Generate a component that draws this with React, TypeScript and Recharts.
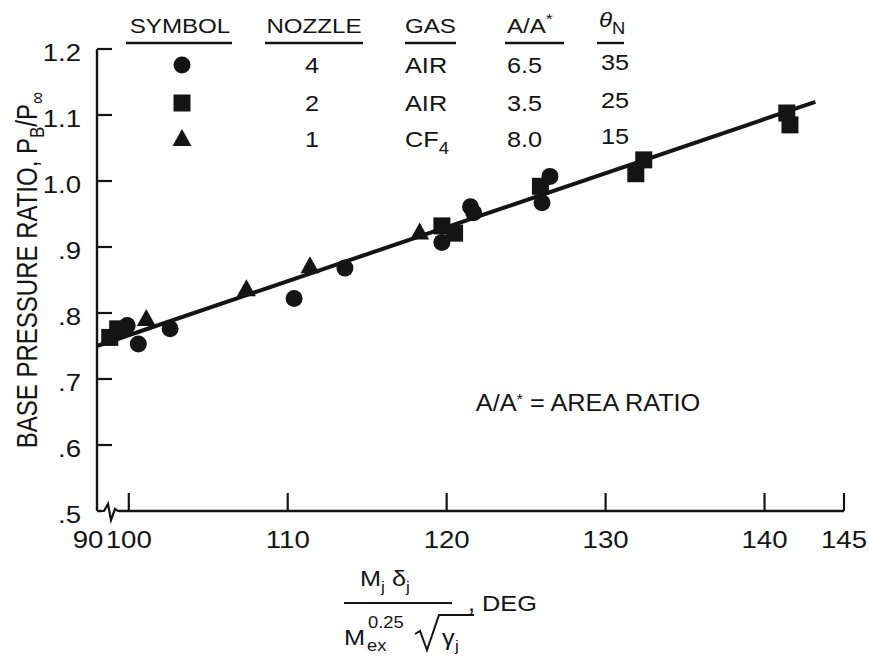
import React from "react";
import {
  ComposedChart,
  XAxis,
  YAxis,
  Scatter,
  Line,
  Legend,
  ReferenceDot,
} from "recharts";

const INK = "#141414";
const FONT = "'Liberation Sans', Arial, Helvetica, sans-serif";

// nozzle 4, air  (circles)
const nozzle4X = [99.9, 100.6, 102.6, 110.4, 113.6, 119.7, 121.5, 121.7, 126.0, 126.5];
const nozzle4Y = [0.781, 0.753, 0.776, 0.822, 0.868, 0.907, 0.961, 0.952, 0.967, 1.007];
// nozzle 2, air  (squares)
const nozzle2X = [98.8, 99.3, 119.7, 120.5, 125.9, 131.9, 132.4, 141.4, 141.6];
const nozzle2Y = [0.763, 0.776, 0.932, 0.921, 0.992, 1.011, 1.032, 1.103, 1.085];
// nozzle 1, CF4  (triangles)
const nozzle1X = [101.1, 107.4, 111.4, 118.3];
const nozzle1Y = [0.791, 0.836, 0.871, 0.922];
// faired line through the data
const fitX = [98, 143.2];
const fitY = [0.75, 1.12];

// 98 sits just right of the axis break and is labelled "90"
const xTicks = [98, 100, 110, 120, 130, 140, 145];
const yTicks = [0.5, 0.6, 0.7, 0.8, 0.9, 1.0, 1.1, 1.2];

// symbol table
const nozzleCol = ["4", "2", "1"];
const gasCol = ["AIR", "AIR", "CF4"];
const areaCol = ["6.5", "3.5", "8.0"];
const thetaCol = ["35", "25", "15"];

const zip = (xs: number[], ys: number[]) => xs.map((x, i) => ({ x, y: ys[i] }));
const nozzle4 = zip(nozzle4X, nozzle4Y);
const nozzle2 = zip(nozzle2X, nozzle2Y);
const nozzle1 = zip(nozzle1X, nozzle1Y);
const fit = zip(fitX, fitY);

// text, stretched a little sideways like the scanned lettering
function T({ x, y, size = 22, anchor = "start", sx = 1.15, children }: any) {
  return (
    <text
      transform={`translate(${x},${y}) scale(${sx},1)`}
      textAnchor={anchor}
      fontSize={size}
      fontFamily={FONT}
      fill={INK}
    >
      {children}
    </text>
  );
}

const Dot = ({ cx, cy }: any) => <circle cx={cx} cy={cy} r={8.5} fill={INK} />;
const Box = ({ cx, cy }: any) => <rect x={cx - 8.5} y={cy - 8.5} width={17} height={17} fill={INK} />;
const Tri = ({ cx, cy }: any) => (
  <path d={`M${cx},${cy - 10} L${cx + 9.5},${cy + 7} L${cx - 9.5},${cy + 7} Z`} fill={INK} />
);

function XTick({ x, y, payload }: any) {
  const v = payload.value;
  if (v === 98) {
    return (
      <g>
        <rect x={x + 5} y={y - 4} width={17} height={8} fill="#fff" />
        <path
          d={`M${x + 4},${y} L${x + 7},${y} L${x + 11},${y - 7} L${x + 14},${y + 9} L${x + 18},${y - 2} L${x + 21},${y} L${x + 24},${y}`}
          fill="none"
          stroke={INK}
          strokeWidth={2.2}
        />
        <T x={x - 9} y={y + 37} size={24} anchor="middle">90</T>
      </g>
    );
  }
  return (
    <g>
      <line x1={x} x2={x} y1={y} y2={y - 18} stroke={INK} strokeWidth={2.2} />
      <T x={x} y={y + 37} size={24} anchor="middle">{v}</T>
    </g>
  );
}

function YTick({ x, y, payload }: any) {
  const v = payload.value;
  const label = v >= 1 ? v.toFixed(1) : v.toFixed(1).slice(1);
  return (
    <g>
      {v > 0.5 && <line x1={x} x2={x + 15} y1={y} y2={y} stroke={INK} strokeWidth={2.2} />}
      <T x={x - 16} y={y + 12} size={24} anchor="end">{label}</T>
    </g>
  );
}

function YTitle({ viewBox }: any) {
  const x = viewBox.x;
  const y = viewBox.y + viewBox.height / 2 - 10;
  return (
    <text
      transform={`translate(${x},${y}) rotate(-90) scale(1,1.2)`}
      textAnchor="middle"
      fontSize={24}
      fontFamily={FONT}
      fill={INK}
    >
      BASE PRESSURE RATIO, P
      <tspan dy={6} fontSize={17}>B</tspan>
      <tspan dy={-6}>/P</tspan>
      <tspan dy={6} fontSize={17}>∞</tspan>
    </text>
  );
}

function XTitle({ viewBox }: any) {
  const bx = viewBox.x + 247;
  const by = viewBox.y + 92;
  return (
    <g>
      <T x={bx + 16} y={by - 17} size={22}>
        M<tspan dy={6} fontSize={15}>j</tspan>
        <tspan dy={-6}> δ</tspan>
        <tspan dy={6} fontSize={15}>j</tspan>
      </T>
      <line x1={bx} x2={bx + 108} y1={by} y2={by} stroke={INK} strokeWidth={2.2} />
      <T x={bx + 124} y={by + 8} size={22}>, DEG</T>
      <T x={bx} y={by + 42} size={22}>M</T>
      <T x={bx + 23} y={by + 48} size={16}>ex</T>
      <T x={bx + 24} y={by + 25} size={16}>0.25</T>
      <path
        d={`M${bx + 71},${by + 31} L${bx + 76},${by + 28} L${bx + 83},${by + 47} L${bx + 95},${by + 12} L${bx + 130},${by + 12}`}
        fill="none"
        stroke={INK}
        strokeWidth={2}
      />
      <T x={bx + 98} y={by + 42} size={22}>γ</T>
      <T x={bx + 111} y={by + 48} size={15}>j</T>
    </g>
  );
}

function AreaNote({ viewBox }: any) {
  return (
    <T x={viewBox.x} y={viewBox.y + viewBox.height / 2 + 9} size={23} sx={1.1}>
      A/A<tspan dy={-7} fontSize={15}>*</tspan>
      <tspan dy={7}> = AREA RATIO</tspan>
    </T>
  );
}

function SymbolTable() {
  const rowY = [73, 111, 147];
  const shapeY = [65, 103, 139];
  const shapes = [Dot, Box, Tri];
  const rule = (x1: number, x2: number) => (
    <line x1={x1} x2={x2} y1={43} y2={43} stroke={INK} strokeWidth={2.4} />
  );
  return (
    <svg width={869} height={160} style={{ display: "block" }}>
      <T x={180} y={33} size={21} anchor="middle">SYMBOL</T>
      <T x={314} y={33} size={21} anchor="middle">NOZZLE</T>
      <T x={405} y={33} size={21}>GAS</T>
      <T x={507} y={33} size={21}>
        A/A<tspan dy={-9} fontSize={15}>*</tspan>
      </T>
      <T x={599} y={27} size={21}>
        <tspan fontStyle="italic">θ</tspan>
        <tspan dy={7} fontSize={16}>N</tspan>
      </T>
      {rule(126, 232)}
      {rule(265, 363)}
      {rule(405, 456)}
      {rule(505, 564)}
      {rule(597, 624)}
      {shapes.map((S, i) => (
        <S key={i} cx={182} cy={shapeY[i]} />
      ))}
      {nozzleCol.map((v, i) => (
        <T key={"n" + i} x={312} y={rowY[i]} anchor="middle">{v}</T>
      ))}
      {gasCol.map((g, i) => {
        const m = g.match(/^(\D+)(\d)$/);
        return (
          <T key={"g" + i} x={405} y={rowY[i]}>
            {m ? m[1] : g}
            {m && <tspan dy={7} fontSize={16}>{m[2]}</tspan>}
          </T>
        );
      })}
      {areaCol.map((v, i) => (
        <T key={"a" + i} x={507} y={rowY[i]}>{v}</T>
      ))}
      {thetaCol.map((v, i) => (
        <T key={"t" + i} x={601} y={rowY[i] - 3}>{v}</T>
      ))}
    </svg>
  );
}

export default function App() {
  return (
    <div style={{ position: "absolute", left: 0, top: 0, width: 869, height: 657, background: "#fff" }}>
      <ComposedChart width={869} height={657} margin={{ top: 49, right: 25, bottom: 116, left: 37 }}>
        <XAxis
          dataKey="x"
          type="number"
          domain={[98, 145]}
          ticks={xTicks}
          height={30}
          tickSize={0}
          tickMargin={0}
          tickLine={false}
          axisLine={{ stroke: INK, strokeWidth: 2.4 }}
          tick={<XTick />}
          label={<XTitle />}
        />
        <YAxis
          dataKey="y"
          type="number"
          domain={[0.5, 1.2]}
          ticks={yTicks}
          width={60}
          tickSize={0}
          tickMargin={0}
          tickLine={false}
          axisLine={{ stroke: INK, strokeWidth: 2.4 }}
          tick={<YTick />}
          label={<YTitle />}
        />
        <Legend
          layout="horizontal"
          verticalAlign="middle"
          align="center"
          content={<SymbolTable />}
          wrapperStyle={{ position: "absolute", left: 0, top: 0, width: 869, height: 160 }}
        />
        <Line
          data={fit}
          dataKey="y"
          type="linear"
          stroke={INK}
          strokeWidth={4}
          dot={false}
          legendType="none"
          isAnimationActive={false}
        />
        <Scatter name="Nozzle 4" data={nozzle4} shape={<Dot />} isAnimationActive={false} />
        <Scatter name="Nozzle 2" data={nozzle2} shape={<Box />} isAnimationActive={false} />
        <Scatter name="Nozzle 1" data={nozzle1} shape={<Tri />} isAnimationActive={false} />
        <ReferenceDot
          x={121.9}
          y={0.665}
          r={1}
          fill="none"
          stroke="none"
          ifOverflow="visible"
          label={<AreaNote />}
        />
      </ComposedChart>
    </div>
  );
}
